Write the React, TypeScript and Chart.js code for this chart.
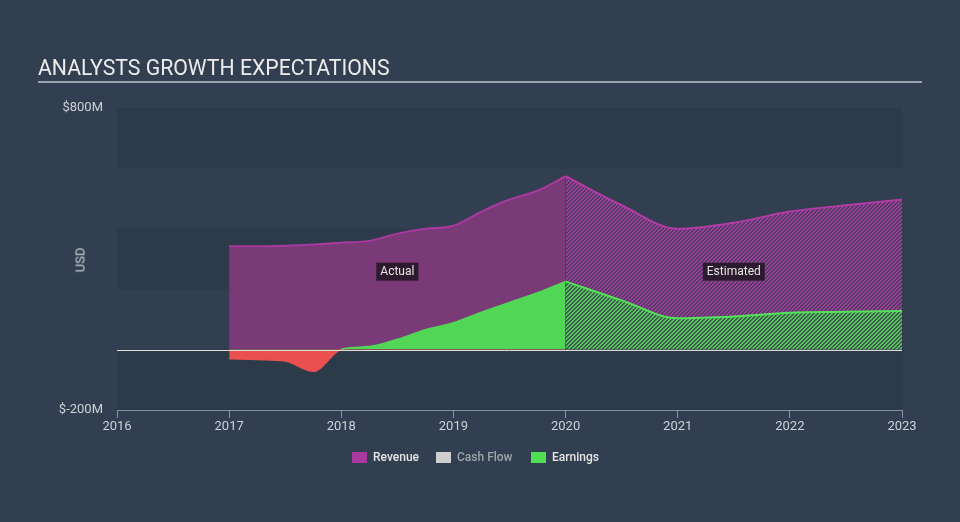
import React, { useEffect, useRef } from 'react';
import { Chart, registerables } from 'chart.js';

Chart.register(...registerables);

// ---- data ----
const actualYears = [2017, 2017.25, 2017.5, 2017.75, 2018, 2018.25, 2018.5, 2018.75, 2019, 2019.25, 2019.5, 2019.75, 2020];
const revenueActual = [342, 342, 344, 348, 354, 360, 384, 400, 410, 457, 497, 526, 574];
const earningsActual = [-30, -33, -38, -72, 1, 10, 34, 66, 89, 124, 156, 188, 226];

const estimateYears = [2020, 2020.5, 2021, 2021.5, 2022, 2022.5, 2023];
const revenueEstimate = [574, 478, 400, 420, 457, 478, 497];
const earningsEstimate = [226, 163, 104, 110, 122, 125, 128];

const xTickYears = [2016, 2017, 2018, 2019, 2020, 2021, 2022, 2023];
const yTickLabels: Record<number, string> = { 800: '$800M', [-200]: '$-200M' };
const yBands = [[600, 800], [200, 400], [-200, 0]];

const legendItems = [
  { label: 'Revenue', color: '#a8399f', text: '#e4e4e4', left: 352 },
  { label: 'Cash Flow', color: '#cfcfcf', text: '#9ea4ab', left: 436 },
  { label: 'Earnings', color: '#4fe052', text: '#e4e4e4', left: 531 },
];

const BG = '#323f50';
const BAND = '#2d3a4a';
const FONT = 'Roboto, "Noto Sans", sans-serif';

function makeHatch(base: string, stripe: string) {
  const c = document.createElement('canvas');
  c.width = 4;
  c.height = 4;
  const g = c.getContext('2d')!;
  g.fillStyle = base;
  g.fillRect(0, 0, 4, 4);
  g.fillStyle = stripe;
  for (let x = 0; x < 4; x++) {
    for (let y = 0; y < 4; y++) {
      const k = (x + y) % 4;
      if (k === 0 || k === 1) g.fillRect(x, y, 1, 1);
    }
  }
  return g.createPattern(c, 'repeat')!;
}

const pts = (xs: number[], ys: number[]) => xs.map((x, i) => ({ x, y: ys[i] }));

export default function App() {
  const ref = useRef<HTMLCanvasElement>(null);

  useEffect(() => {
    document.body.style.margin = '0';
    document.body.style.background = BG;
    const canvas = ref.current!;
    const revHatch = makeHatch('#573a64', '#96409a');
    const earnHatch = makeHatch('#3b5d4d', '#58c25c');

    const midActual = (actualYears[0] + actualYears[actualYears.length - 1]) / 2;
    const midEstimate = (estimateYears[0] + estimateYears[estimateYears.length - 1]) / 2;
    const annotations = [
      { text: 'Actual', x: midActual, y: 258 },
      { text: 'Estimated', x: midEstimate, y: 258 },
    ];

    const decor = {
      id: 'decor',
      beforeDraw(chart: any) {
        const { ctx, chartArea, scales } = chart;
        ctx.save();
        ctx.fillStyle = BAND;
        for (const [a, b] of yBands) {
          const y1 = scales.y.getPixelForValue(b);
          const y2 = scales.y.getPixelForValue(a);
          ctx.fillRect(chartArea.left, y1, chartArea.right - chartArea.left, y2 - y1);
        }
        ctx.restore();
      },
      afterDatasetsDraw(chart: any) {
        const { ctx, chartArea, scales } = chart;
        ctx.save();
        const y0 = Math.round(scales.y.getPixelForValue(0)) + 0.5;
        ctx.strokeStyle = '#e2ded6';
        ctx.lineWidth = 1;
        ctx.beginPath();
        ctx.moveTo(chartArea.left, y0);
        ctx.lineTo(chartArea.right, y0);
        ctx.stroke();

        ctx.font = `12px ${FONT}`;
        ctx.textAlign = 'center';
        ctx.textBaseline = 'middle';
        for (const a of annotations) {
          const x = scales.x.getPixelForValue(a.x);
          const y = scales.y.getPixelForValue(a.y);
          const w = ctx.measureText(a.text).width + 8;
          const h = 18;
          ctx.fillStyle = 'rgba(38,24,40,0.92)';
          ctx.fillRect(x - w / 2, y - h / 2, w, h);
          ctx.fillStyle = '#e6e6e6';
          ctx.fillText(a.text, x, y + 0.5);
        }
        ctx.restore();
      },
    };

    const chart = new Chart(canvas, {
      type: 'line',
      data: {
        datasets: [
          {
            label: 'Earnings',
            data: pts(actualYears, earningsActual),
            order: 1,
            borderColor: '#52d655',
            borderWidth: 1.5,
            segment: {
              borderColor: (c: any) => (c.p0.parsed.y < 0 || c.p1.parsed.y < 0 ? '#e9504f' : '#52d655'),
            },
            fill: { target: 'origin', above: '#52d655', below: '#e9504f' },
            pointRadius: 0,
            cubicInterpolationMode: 'monotone',
          },
          {
            label: 'Earnings estimate',
            data: pts(estimateYears, earningsEstimate),
            order: 1,
            borderColor: '#55e258',
            borderWidth: 2,
            backgroundColor: earnHatch,
            fill: 'origin',
            pointRadius: 0,
            cubicInterpolationMode: 'monotone',
          },
          {
            label: 'Revenue',
            data: pts(actualYears, revenueActual),
            order: 2,
            borderColor: '#a8399f',
            borderWidth: 2,
            backgroundColor: '#7a3a77',
            fill: 'origin',
            pointRadius: 0,
            cubicInterpolationMode: 'monotone',
          },
          {
            label: 'Revenue estimate',
            data: pts(estimateYears, revenueEstimate),
            order: 2,
            borderColor: '#b23ba6',
            borderWidth: 2,
            backgroundColor: revHatch,
            fill: 'origin',
            pointRadius: 0,
            cubicInterpolationMode: 'monotone',
          },
        ],
      } as any,
      options: {
        animation: false,
        responsive: false,
        layout: { padding: { left: 17, right: 58, top: 108, bottom: 82 } },
        plugins: { legend: { display: false }, tooltip: { enabled: false }, title: { display: false } },
        scales: {
          x: {
            type: 'linear',
            min: xTickYears[0],
            max: xTickYears[xTickYears.length - 1],
            afterBuildTicks: (s: any) => {
              s.ticks = xTickYears.map((v) => ({ value: v }));
            },
            afterFit: (s: any) => {
              s.height = 30;
            },
            ticks: {
              callback: (v: any) => String(v),
              color: '#cdd2d8',
              font: { family: FONT, size: 13 },
              padding: 1,
              maxRotation: 0,
              autoSkip: false,
            },
            grid: { drawOnChartArea: false, drawTicks: true, tickLength: 8, color: '#8793a2' },
            border: { display: true, color: '#8793a2' },
          },
          y: {
            min: -200,
            max: 800,
            afterFit: (s: any) => {
              s.width = 100;
            },
            ticks: {
              stepSize: 200,
              callback: (v: any) => yTickLabels[v] ?? '',
              color: '#cdd2d8',
              font: { family: FONT, size: 13 },
              padding: 6,
            },
            grid: { display: false },
            border: { display: false },
          },
        },
      } as any,
      plugins: [decor],
    });
    return () => chart.destroy();
  }, []);

  return (
    <div style={{ position: 'absolute', left: 0, top: 0, width: 960, height: 522, background: BG, fontFamily: FONT, overflow: 'hidden' }}>
      <canvas ref={ref} width={960} height={522} style={{ position: 'absolute', left: 0, top: 0 }} />
      <div style={{ position: 'absolute', left: 38, top: 57, fontSize: 21.25, lineHeight: '21px', color: '#ececec', whiteSpace: 'nowrap' }}>
        ANALYSTS GROWTH EXPECTATIONS
      </div>
      <div style={{ position: 'absolute', left: 38, top: 81, width: 884, height: 2, background: '#9ba4ae' }} />
      <div style={{ position: 'absolute', left: 80, top: 260, transform: 'translate(-50%, -50%) rotate(-90deg)', fontSize: 13, color: '#cdd2d8' }}>
        USD
      </div>
      {legendItems.map((it) => (
        <div key={it.label} style={{ position: 'absolute', left: it.left, top: 450, display: 'flex', alignItems: 'center', height: 15 }}>
          <span style={{ display: 'inline-block', width: 15, height: 11, background: it.color, marginRight: 6 }} />
          <span style={{ fontSize: 12, fontWeight: 500, color: it.text, lineHeight: '15px', whiteSpace: 'nowrap' }}>{it.label}</span>
        </div>
      ))}
    </div>
  );
}
